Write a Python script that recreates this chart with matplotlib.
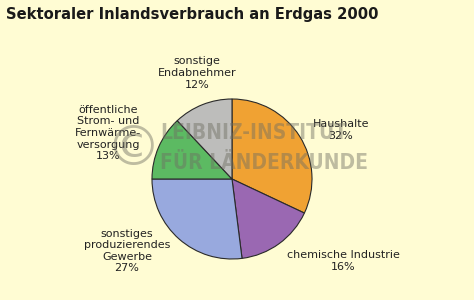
import matplotlib
matplotlib.use("Agg")
import matplotlib.pyplot as plt

# Daten
sektoren = ["Haushalte", "chemische Industrie", "sonstiges\nproduzierendes\nGewerbe",
            "öffentliche\nStrom- und\nFernwärme-\nversorgung", "sonstige\nEndabnehmer"]
anteile = [32, 16, 27, 13, 12]
farben = ["#F0A233", "#9A68B2", "#98A9DE", "#5CBA62", "#BDBDBB"]

# Label-Positionen in Pixeln (x, y von oben)
label_pos = [(341, 130), (343, 261), (127, 251), (108, 133), (197, 73)]

bg = "#FFFCD3"
W, H = 474, 300

fig = plt.figure(figsize=(4.74, 3.0), dpi=100, facecolor=bg)
ax = fig.add_axes([0, 0, 1, 1])
ax.set_facecolor(bg)

cx, cy, r = 232, 179, 80
ax.pie(anteile, colors=farben, startangle=90, counterclock=False,
       center=(cx, H - cy), radius=r, frame=True,
       wedgeprops=dict(edgecolor="#2a2a2a", linewidth=0.8))
ax.set_xlim(0, W)
ax.set_ylim(0, H)
ax.set_aspect("equal")
ax.axis("off")

for name, wert, (x, y) in zip(sektoren, anteile, label_pos):
    ax.text(x, H - y, f"{name}\n{wert}%", ha="center", va="center",
            fontsize=8, color="#222222", linespacing=1.2)

# Titel
fig.text(6, H - 14, "Sektoraler Inlandsverbrauch an Erdgas 2000",
         transform=None, fontsize=10.6, fontweight="bold", color="#1a1a1a",
         va="center", ha="left")

# Wasserzeichen
wm = dict(fontsize=15, fontweight="bold", fontstretch="condensed", color="#6f6e62",
          alpha=0.45, ha="left", va="center", family="DejaVu Sans")
ax.text(160, H - 133, "LEIBNIZ-INSTITUT", **wm)
ax.text(160, H - 163, "FÜR LÄNDERKUNDE", **wm)
ax.text(133, H - 150, "©", fontsize=40, color="#6f6e62", alpha=0.45,
        ha="center", va="center")

fig.savefig("out.png", dpi=100, facecolor=bg)
